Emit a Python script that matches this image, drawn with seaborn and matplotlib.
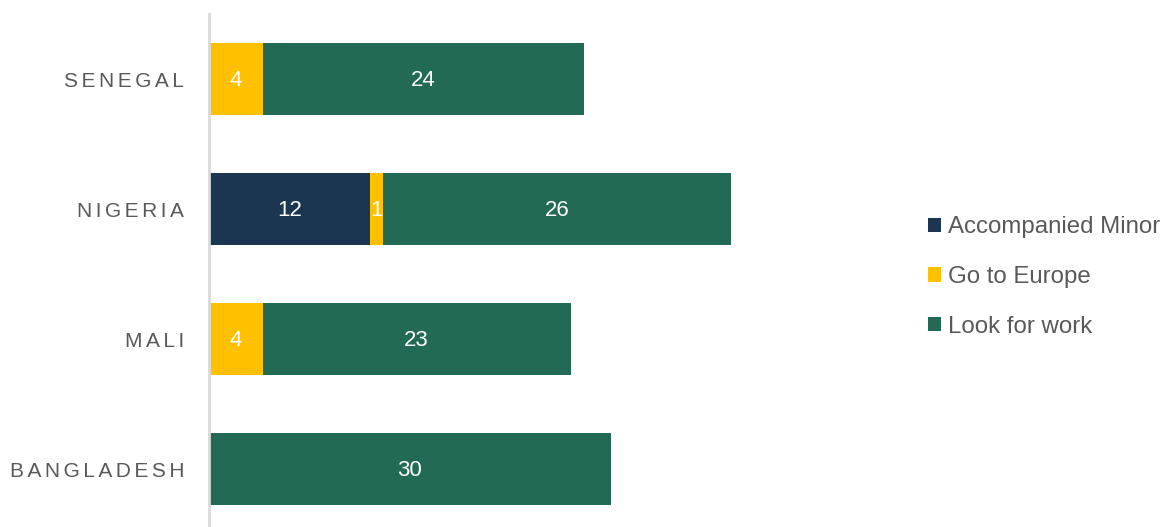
import matplotlib
matplotlib.use("Agg")
import matplotlib.pyplot as plt
import seaborn as sns
import numpy as np
import pandas as pd
from matplotlib.patches import Patch

countries = ["SENEGAL", "NIGERIA", "MALI", "BANGLADESH"]
series = ["Accompanied Minor", "Go to Europe", "Look for work"]
minor = [0, 12, 0, 0]
europe = [4, 1, 4, 0]
work = [24, 26, 23, 30]
colors = ["#1B3651", "#FFC000", "#226A55"]

sns.set_theme(style="white")
plt.rcParams['font.family'] = ['Liberation Sans', 'DejaVu Sans']

fig = plt.figure(figsize=(11.61, 5.27), dpi=100)
ax = fig.add_axes([209/1161, 0, 0.60, 513/527])

minor_a = np.array(minor, dtype=float)
europe_a = np.array(europe, dtype=float)
work_a = np.array(work, dtype=float)
cum = [minor_a, minor_a + europe_a, minor_a + europe_a + work_a]

df = pd.DataFrame({"country": countries,
                   "c1": cum[0], "c2": cum[1], "c3": cum[2]})

# draw cumulative totals from largest to smallest so they stack visually
for col, color in zip(["c3", "c2", "c1"], colors[::-1]):
    sns.barplot(data=df, y="country", x=col, color=color, orient="h",
                width=0.56, ax=ax, saturation=1, linewidth=0)

# segment labels
vals = [minor_a, europe_a, work_a]
lefts = [np.zeros(4), cum[0], cum[1]]
for v, l in zip(vals, lefts):
    for i in range(len(countries)):
        if v[i] > 0:
            ax.text(l[i] + v[i] / 2, i + 0.01, f"{int(v[i])}", ha="center", va="center",
                    color="white", fontsize=16)

ax.set_xlim(0, 52)
ax.set_ylim(3.446, -0.5)
ax.set_xlabel("")
ax.set_ylabel("")
ax.set_xticks([])
spaced = ["\u2006".join(c) for c in countries]
ax.set_yticks(range(len(countries)))
ax.set_yticklabels(spaced, fontsize=15, color="#595959")
ax.tick_params(axis="y", length=0, pad=18)
for s in ["top", "right", "bottom"]:
    ax.spines[s].set_visible(False)
ax.spines["left"].set_color("#D9D9D9")
ax.spines["left"].set_linewidth(2)

handles = [Patch(facecolor=c, edgecolor="none") for c in colors]
leg = fig.legend(handles, series, loc="center left", bbox_to_anchor=(928/1161, 1 - 277/527),
                 frameon=False, fontsize=17.3, handlelength=0.55, handleheight=0.55,
                 handletextpad=0.3, labelspacing=1.15, borderaxespad=0, borderpad=0)
for t in leg.get_texts():
    t.set_color("#595959")

fig.savefig("out.png", dpi=100)
